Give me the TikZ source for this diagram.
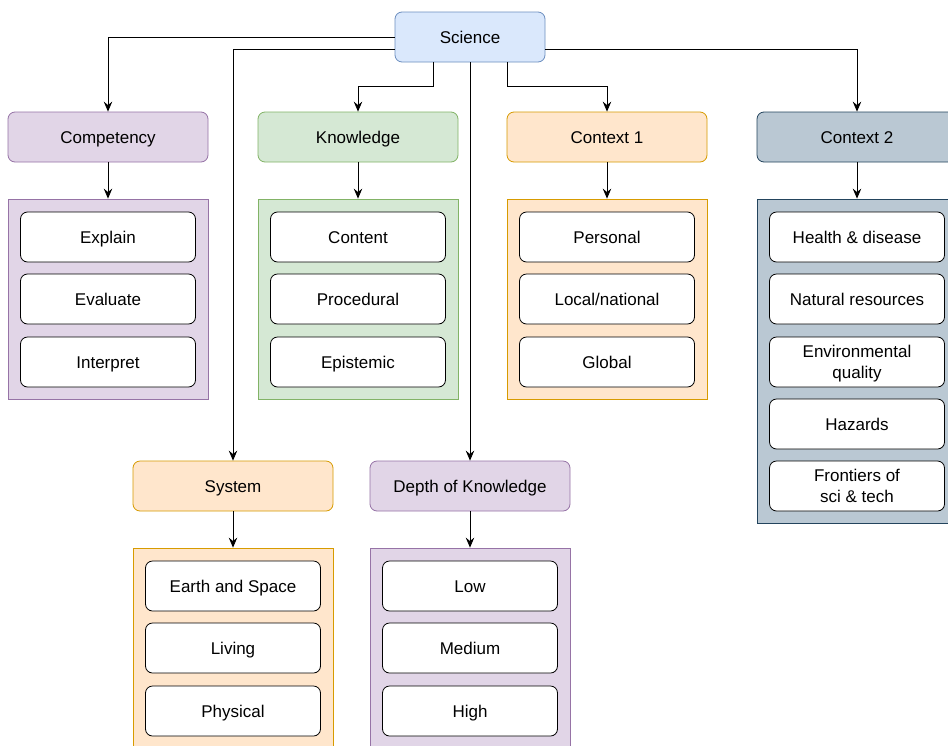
\documentclass[tikz,border=0pt]{standalone}
\usepackage{fontspec}
\setmainfont{Liberation Sans}
\usetikzlibrary{arrows.meta,calc}
\definecolor{sciF}{HTML}{DAE8FC}\definecolor{sciD}{HTML}{6C8EBF}
\definecolor{purF}{HTML}{E1D5E7}\definecolor{purD}{HTML}{9673A6}
\definecolor{greF}{HTML}{D5E8D4}\definecolor{greD}{HTML}{82B366}
\definecolor{oraF}{HTML}{FFE6CC}\definecolor{oraD}{HTML}{D79B00}
\definecolor{bluF}{HTML}{BAC8D3}\definecolor{bluD}{HTML}{23445D}
\newcommand{\twoline}[2]{\begin{tabular}{@{}c@{}}\rule{0pt}{18.7pt}#1\\#2\end{tabular}}
\begin{document}
\begin{tikzpicture}[x=1pt,y=-1pt,
  every node/.style={font=\fontsize{17}{21}\selectfont, inner sep=2pt},
  oneline/.style={text height=14.5pt, text depth=1.5pt},
  hdr/.style={draw, oneline, rounded corners=7pt, line width=0.8pt, minimum width=200pt, minimum height=50pt},
  cont/.style={draw, line width=0.8pt, minimum width=200pt},
  item/.style={draw=black, fill=white, rounded corners=7pt, line width=0.8pt, minimum width=175pt, minimum height=50pt, align=center},
  itm/.style={item, oneline},
  arr/.style={draw=black, line width=0.8pt, -{Stealth[length=10pt,width=8.5pt,inset=3.5pt]}}]
\useasboundingbox (0,0) rectangle (948,745);
\clip (0,0) rectangle (948,745);
\fill[white] (0,0) rectangle (948,745);
% root
\node[hdr, fill=sciF, draw=sciD, minimum width=150pt] (sci) at (470,37) {Science};
% headers
\node[hdr, fill=purF, draw=purD] (comp) at (108,137) {Competency};
\node[hdr, fill=greF, draw=greD] (know) at (358,137) {Knowledge};
\node[hdr, fill=oraF, draw=oraD] (ctxa) at (607,137) {Context 1};
\node[hdr, fill=bluF, draw=bluD] (ctxb) at (857,137) {Context 2};
\node[hdr, fill=oraF, draw=oraD] (sys) at (233,486) {System};
\node[hdr, fill=purF, draw=purD] (dok) at (470,486) {Depth of Knowledge};
% containers
\node[cont, fill=purF, draw=purD, minimum height=200pt] (compc) at (108,299) {};
\node[cont, fill=greF, draw=greD, minimum height=200pt] (knowc) at (358,299) {};
\node[cont, fill=oraF, draw=oraD, minimum height=200pt] (ctxac) at (607,299) {};
\node[cont, fill=bluF, draw=bluD, minimum height=324pt] (ctxbc) at (857,361) {};
\node[cont, fill=oraF, draw=oraD, minimum height=230pt] (sysc) at (233,663) {};
\node[cont, fill=purF, draw=purD, minimum height=230pt] (dokc) at (470,663) {};
% items
\node[itm] (c1) at (108,237) {Explain};
\node[itm] (c2) at (108,299) {Evaluate};
\node[itm] (c3) at (108,362) {Interpret};
\node[itm] (k1) at (358,237) {Content};
\node[itm] (k2) at (358,299) {Procedural};
\node[itm] (k3) at (358,362) {Epistemic};
\node[itm] (a1) at (607,237) {Personal};
\node[itm] (a2) at (607,299) {Local/national};
\node[itm] (a3) at (607,362) {Global};
\node[itm] (b1) at (857,237) {Health \& disease};
\node[itm] (b2) at (857,299) {Natural resources};
\node[item] (b3) at (857,362) {\twoline{Environmental}{quality}};
\node[itm] (b4) at (857,424) {Hazards};
\node[item] (b5) at (857,486) {\twoline{Frontiers of}{sci \& tech}};
\node[itm] (s1) at (233,586) {Earth and Space};
\node[itm] (s2) at (233,648) {Living};
\node[itm] (s3) at (233,711) {Physical};
\node[itm] (d1) at (470,586) {Low};
\node[itm] (d2) at (470,648) {Medium};
\node[itm] (d3) at (470,711) {High};
% connectors from root
\draw[arr] (sci.west) -| (comp.north);
\draw[arr] ($(sci.west)+(0,12)$) -| (sys.north);
\draw[arr] ($(sci.south)+(-37,0)$) |- ($(know.north)+(0,-25)$) -- (know.north);
\draw[arr] (sci.south) -- (dok.north);
\draw[arr] ($(sci.south)+(37,0)$) |- ($(ctxa.north)+(0,-25)$) -- (ctxa.north);
\draw[arr] ($(sci.east)+(0,12)$) -| (ctxb.north);
% header to container
\draw[arr] (comp.south) -- (compc.north);
\draw[arr] (know.south) -- (knowc.north);
\draw[arr] (ctxa.south) -- (ctxac.north);
\draw[arr] (ctxb.south) -- (ctxbc.north);
\draw[arr] (sys.south) -- (sysc.north);
\draw[arr] (dok.south) -- (dokc.north);
\end{tikzpicture}
\end{document}
